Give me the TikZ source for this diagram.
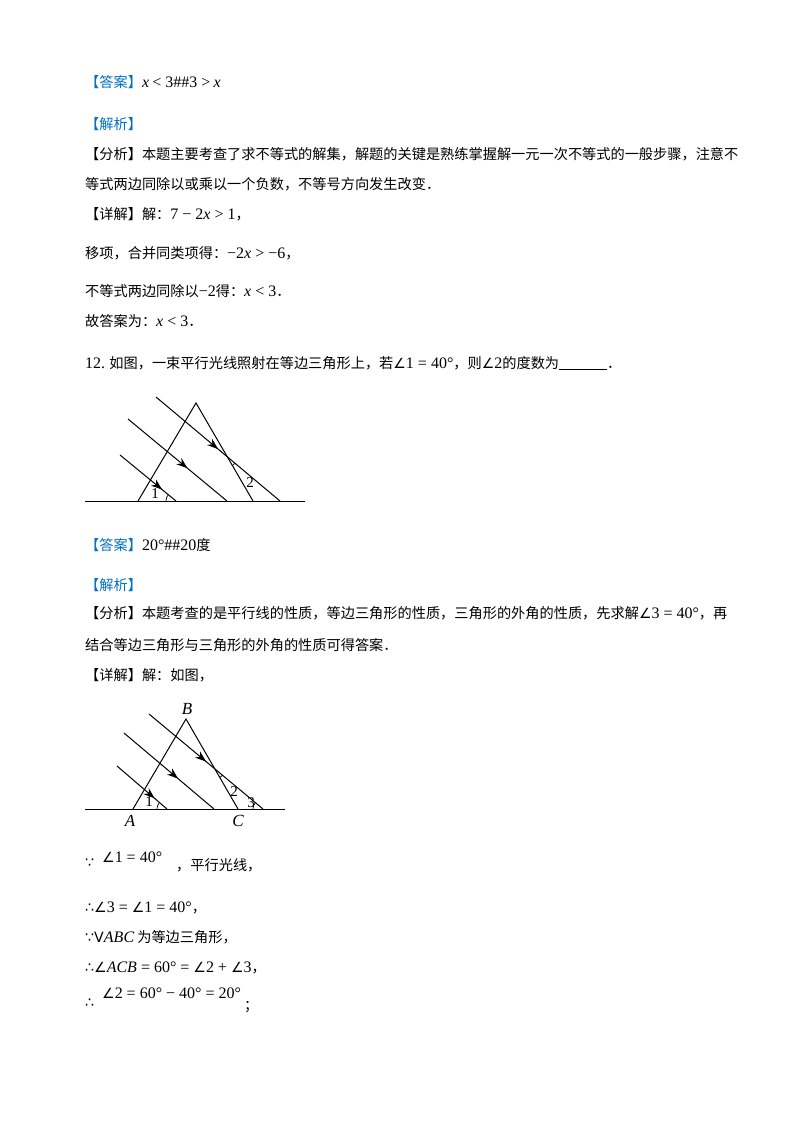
\documentclass[tikz,border=0pt]{standalone}
\usepackage{fontspec}
\setmainfont{Noto Sans CJK SC}
\newfontfamily\tm{Liberation Serif}
\newfontfamily\dv{DejaVu Sans}
\usetikzlibrary{angles,decorations.markings,arrows.meta}
\definecolor{ansblue}{RGB}{0,112,192}
\newcommand{\mi}[1]{{\tm\fontsize{16}{16}\selectfont\itshape #1}}
\newcommand{\mr}[1]{{\tm\fontsize{16}{16}\selectfont #1}}
\newcommand{\ang}{{\dv\fontsize{14}{14}\selectfont ∠}}
\newcommand{\bc}{{\dv ∵}}
\newcommand{\tf}{{\dv ∴}}
\begin{document}
\begin{tikzpicture}[x=1pt,y=-1pt,
  txt/.style={anchor=base west,inner sep=0pt,font=\fontsize{14.2}{16}\selectfont},
  lbl/.style={inner sep=0pt,font=\fontsize{15}{15}\selectfont\tm},
  lbli/.style={inner sep=0pt,font=\fontsize{17}{17}\selectfont\tm\itshape},
  ln/.style={line width=1pt},
  ray/.style={line width=1pt,postaction={decorate},decoration={markings,mark=at position #1 with {\arrow{Stealth[length=11pt,width=8pt]}}}},
  ag/.style={draw,line width=0.7pt,angle radius=10pt}]
\useasboundingbox (0,0) rectangle (800,1132);
\fill[white] (0,0) rectangle (800,1132);
\def\bl#1{\textcolor{ansblue}{#1}}
\node[txt] (t1) at (85,87) {\bl{【答案】}\mi{x} \mr{< 3\#\#3 >} \mi{x}};
\node[txt] (t2) at (85,129) {\bl{【解析】}};
\node[txt] (t3) at (85,159) {【分析】本题主要考查了求不等式的解集，解题的关键是熟练掌握解一元一次不等式的一般步骤，注意不};
\node[txt] (t4) at (85,189) {等式两边同除以或乘以一个负数，不等号方向发生改变．};
\node[txt] (t5) at (85,219) {【详解】解：\mr{7 − 2}\mi{x}\mr{ > 1}，};
\node[txt] (t6) at (85,258) {移项，合并同类项得：\mr{−2}\mi{x}\mr{ > −6}，};
\node[txt] (t7) at (85,296) {不等式两边同除以\mr{−2}得：\mi{x}\mr{ < 3}．};
\node[txt] (t8) at (85,326) {故答案为：\mi{x}\mr{ < 3}．};
\node[txt] (t9) at (85,368) {\mr{12.} 如图，一束平行光线照射在等边三角形上，若\ang\mr{1 = 40°}，则\ang\mr{2}的度数为\rule[-2pt]{48pt}{0.6pt}．};
% figure 1
\coordinate (L1) at (85,501); \coordinate (R1) at (305,501);
\coordinate (A1) at (138,501); \coordinate (B1) at (196,403); \coordinate (C1) at (253,501);
\coordinate (p1s) at (156,397); \coordinate (p1e) at (280,501);
\coordinate (p2s) at (128,419); \coordinate (p2e) at (227,501);
\coordinate (p3s) at (120,455); \coordinate (p3e) at (176,501);
\draw[ln] (L1) -- (R1);
\draw[ln] (A1) -- (B1) -- (C1);
\draw[ray=0.5] (p1s) -- (p1e);
\draw[ray=0.6] (p2s) -- (p2e);
\draw[ray=0.75] (p3s) -- (p3e);
\coordinate (I1) at (intersection of B1--C1 and p1s--p1e);
\pic[ag] {angle = C1--I1--p1e};
\pic[ag] {angle = p3s--p3e--L1};
\node[lbl] (n1a) at (155,494) {1};
\node[lbl] (n2a) at (250,483) {2};
\node[txt] (t10) at (85,550) {\bl{【答案】}\mr{20°\#\#20}度};
\node[txt] (t11) at (85,590) {\bl{【解析】}};
\node[txt] (t12) at (85,618) {【分析】本题考查的是平行线的性质，等边三角形的性质，三角形的外角的性质，先求解\ang\mr{3 = 40°}，再};
\node[txt] (t13) at (85,650) {结合等边三角形与三角形的外角的性质可得答案．};
\node[txt] (t14) at (85,680) {【详解】解：如图，};
% figure 2
\coordinate (L2) at (85,809); \coordinate (R2) at (285,809);
\coordinate (A2) at (133,809); \coordinate (B2) at (186,719); \coordinate (C2) at (238,809);
\coordinate (q1s) at (149,714); \coordinate (q1e) at (263,809);
\coordinate (q2s) at (124,733); \coordinate (q2e) at (214,809);
\coordinate (q3s) at (117,766); \coordinate (q3e) at (167,809);
\draw[ln] (L2) -- (R2);
\draw[ln] (A2) -- (B2) -- (C2);
\draw[ray=0.5] (q1s) -- (q1e);
\draw[ray=0.6] (q2s) -- (q2e);
\draw[ray=0.75] (q3s) -- (q3e);
\coordinate (I2) at (intersection of B2--C2 and q1s--q1e);
\pic[ag] {angle = C2--I2--q1e};
\pic[ag] {angle = q3s--q3e--L2};
\pic[ag] {angle = q1s--q1e--L2};
\node[lbl] (n1b) at (149,802) {1};
\node[lbl] (n2b) at (234,792) {2};
\node[lbl] (n3b) at (251,803) {3};
\node[lbli] (nB) at (187,709) {B};
\node[lbli] (nA) at (130,821) {A};
\node[lbli] (nC) at (238,821) {C};
% proof
\node[txt] (t15) at (85,867) {\bc};
\node[txt] (t15b) at (102,862) {\ang\mr{1 = 40°}};
\node[txt] (t15c) at (176,870) {，平行光线，};
\node[txt] (t16) at (85,912) {\tf\ang\mr{3 = }\ang\mr{1 = 40°}，};
\node[txt] (t17) at (85,942) {\bc{\dv V}\mi{ABC} 为等边三角形，};
\node[txt] (t18) at (85,972) {\tf\ang\mi{ACB}\mr{ = 60° = }\ang\mr{2 + }\ang\mr{3}，};
\node[txt] (t19) at (85,1007) {\tf};
\node[txt] (t19b) at (102,998) {\ang\mr{2 = 60° − 40° = 20°}};
\node[txt] (t19c) at (244,1010) {；};
\end{tikzpicture}
\end{document}
